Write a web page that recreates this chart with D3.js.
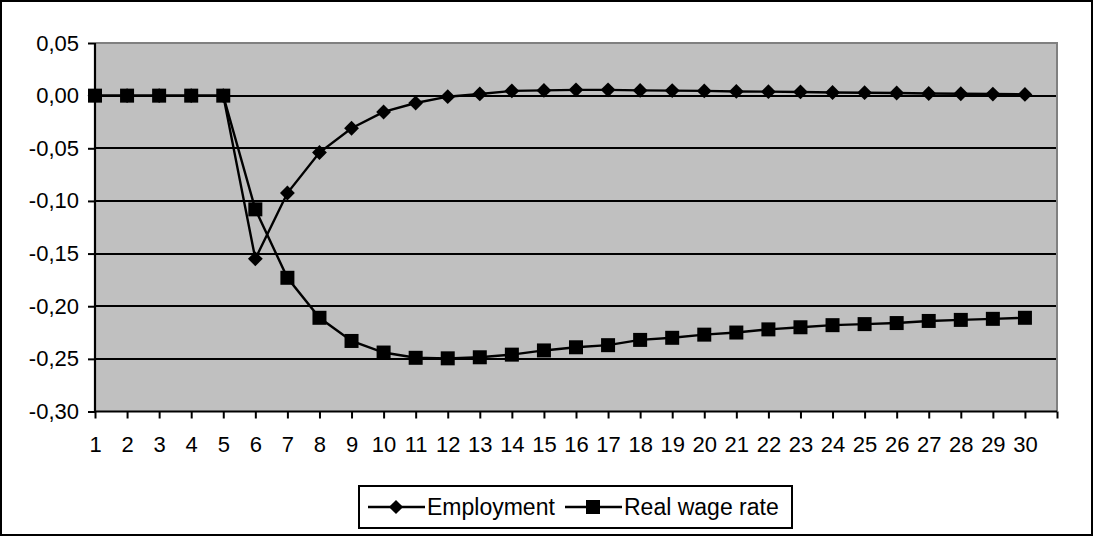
<!DOCTYPE html>
<html>
<head>
<meta charset="utf-8">
<script src="https://cdn.jsdelivr.net/npm/d3@7"></script>
<style>
  body { margin: 0; background: #fff; }
  svg { display: block; font-family: "Liberation Sans", Arial, sans-serif; }
</style>
</head>
<body>
<svg width="1094" height="536"></svg>
<script>
// periods 1..30
var periods = d3.range(1, 31);

var employment = [0, 0, 0, 0, 0, -0.155, -0.0925, -0.054, -0.031, -0.0155,
  -0.007, -0.001, 0.0016, 0.0045, 0.005, 0.0055, 0.0055, 0.005, 0.0048, 0.0045,
  0.004, 0.0038, 0.0035, 0.003, 0.0028, 0.0025, 0.002, 0.0018, 0.0015, 0.0012];

var realWage = [0, 0, 0, 0, 0, -0.108, -0.173, -0.211, -0.233, -0.244,
  -0.249, -0.2495, -0.2485, -0.246, -0.242, -0.239, -0.237, -0.232, -0.230, -0.227,
  -0.225, -0.222, -0.220, -0.218, -0.217, -0.216, -0.214, -0.213, -0.212, -0.211];

var yTicks = [0.05, 0, -0.05, -0.10, -0.15, -0.20, -0.25, -0.30];

var seriesNames = ["Employment", "Real wage rate"];

var svg = d3.select("svg"),
    width = 1094,
    height = 536;

var plotLeft = 95, plotRight = 1057, plotTop = 43, plotBottom = 411.5;

// outer chart border
svg.append("rect")
  .attr("x", 1).attr("y", 1)
  .attr("width", width - 3).attr("height", height - 2)
  .attr("fill", "#fff").attr("stroke", "#000").attr("stroke-width", 2);

// x: categories sit on the ticks, one extra tick at the right end
var x = d3.scaleLinear().domain([1, 31]).range([plotLeft, plotRight]);
var y = d3.scaleLinear().domain([-0.30, 0.05]).range([plotBottom, plotTop]);

var fmt = d3.formatLocale({decimal: ",", thousands: ".", grouping: [3], currency: ["", ""], minus: "-"}).format(".2f");

// plot area
svg.append("rect")
  .attr("x", plotLeft).attr("y", plotTop)
  .attr("width", plotRight - plotLeft).attr("height", plotBottom - plotTop)
  .attr("fill", "#c0c0c0");

// gridlines
svg.append("g")
  .selectAll("line")
  .data(yTicks.filter(function(d) { return d < 0.04 && d > -0.29; }))
  .enter().append("line")
  .attr("x1", plotLeft).attr("x2", plotRight)
  .attr("y1", function(d) { return Math.round(y(d)); })
  .attr("y2", function(d) { return Math.round(y(d)); })
  .attr("stroke", "#000").attr("stroke-width", 2);

// gray top and right border of plot
svg.append("path")
  .attr("d", "M" + plotLeft + "," + plotTop + "H" + plotRight + "V" + plotBottom)
  .attr("fill", "none").attr("stroke", "#808080").attr("stroke-width", 2);

// y axis
var yAxis = svg.append("g")
  .attr("transform", "translate(" + plotLeft + ",0)")
  .call(d3.axisLeft(y).tickValues(yTicks).tickFormat(fmt).tickSize(7).tickPadding(9));

// x axis
var xAxis = svg.append("g")
  .attr("transform", "translate(0," + plotBottom + ")")
  .call(d3.axisBottom(x).tickValues(d3.range(1, 32))
    .tickFormat(function(d) { return d <= 30 ? d : ""; })
    .tickSize(7).tickPadding(18));

svg.selectAll(".domain").attr("stroke", "#000").attr("stroke-width", 2.2);
svg.selectAll(".tick line").attr("stroke", "#000").attr("stroke-width", 2);
svg.selectAll(".tick text")
  .attr("fill", "#000")
  .style("font-size", "22px")
  .style("font-family", "'Liberation Sans', Arial, sans-serif");
yAxis.selectAll(".domain").attr("d", "M0," + plotBottom + "V" + plotTop);
xAxis.selectAll(".domain").attr("d", "M" + plotLeft + ",0H" + plotRight);

var line = d3.line()
  .x(function(d, i) { return x(periods[i]); })
  .y(function(d) { return y(d); });

function drawSeries(values, marker) {
  var g = svg.append("g");
  g.append("path")
    .datum(values)
    .attr("d", line)
    .attr("fill", "none").attr("stroke", "#000").attr("stroke-width", 2.4);
  var pts = g.selectAll(".pt")
    .data(values)
    .enter();
  if (marker === "diamond") {
    pts.append("path")
      .attr("d", d3.symbol().type(d3.symbolSquare).size(110))
      .attr("transform", function(d, i) { return "translate(" + x(periods[i]) + "," + y(d) + ") rotate(45)"; })
      .attr("fill", "#000");
  } else {
    pts.append("rect")
      .attr("x", function(d, i) { return x(periods[i]) - 7; })
      .attr("y", function(d) { return y(d) - 7; })
      .attr("width", 14).attr("height", 14)
      .attr("fill", "#000");
  }
}

drawSeries(employment, "diamond");
drawSeries(realWage, "square");

// legend
var legend = svg.append("g");
legend.append("rect")
  .attr("x", 359).attr("y", 486)
  .attr("width", 433).attr("height", 42)
  .attr("fill", "#fff").attr("stroke", "#000").attr("stroke-width", 2);

var items = legend.selectAll(".item")
  .data(seriesNames)
  .enter().append("g")
  .attr("transform", function(d, i) { return "translate(" + (i === 0 ? 368 : 565) + ",507)"; });

items.append("line")
  .attr("x1", 0).attr("x2", 57)
  .attr("stroke", "#000").attr("stroke-width", 2.4);

items.each(function(d, i) {
  var it = d3.select(this);
  if (i === 0) {
    it.append("path")
      .attr("d", d3.symbol().type(d3.symbolSquare).size(100))
      .attr("transform", "translate(28,0) rotate(45)")
      .attr("fill", "#000");
  } else {
    it.append("rect")
      .attr("x", 21).attr("y", -7).attr("width", 14).attr("height", 14)
      .attr("fill", "#000");
  }
});

items.append("text")
  .attr("x", 59)
  .attr("y", 0)
  .attr("dy", "0.35em")
  .style("font-size", "23px")
  .text(function(d) { return d; });
</script>
</body>
</html>
